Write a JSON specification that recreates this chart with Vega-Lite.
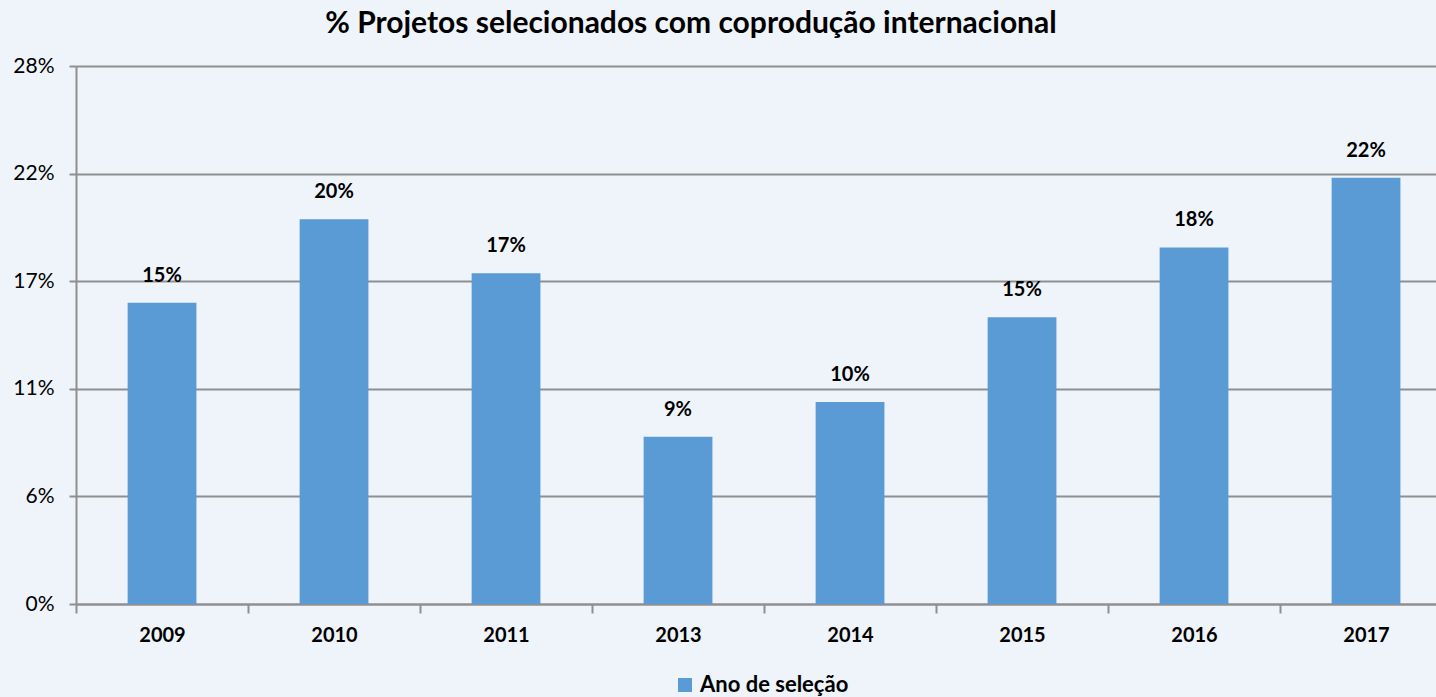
{
  "$schema": "https://vega.github.io/schema/vega-lite/v6.json",
  "width": 1360,
  "height": 538,
  "autosize": {"type": "none"},
  "padding": {"left": 76, "top": 66, "right": 0, "bottom": 93},
  "background": "#EFF4FB",
  "title": {
    "text": "% Projetos selecionados com coprodução internacional",
    "font": "Lato",
    "fontSize": 30,
    "fontWeight": "bold",
    "color": "#000000",
    "anchor": "middle",
    "dx": -65,
    "offset": 16
  },
  "config": {
    "view": {"stroke": null},
    "font": "Lato"
  },
  "data": {
    "values": [
      {"ano": "2009", "pct": 0.1568, "rotulo": "15%"},
      {"ano": "2010", "pct": 0.2002, "rotulo": "20%"},
      {"ano": "2011", "pct": 0.1721, "rotulo": "17%"},
      {"ano": "2013", "pct": 0.0871, "rotulo": "9%"},
      {"ano": "2014", "pct": 0.1051, "rotulo": "10%"},
      {"ano": "2015", "pct": 0.1492, "rotulo": "15%"},
      {"ano": "2016", "pct": 0.1856, "rotulo": "18%"},
      {"ano": "2017", "pct": 0.2219, "rotulo": "22%"}
    ]
  },
  "encoding": {
    "x": {
      "field": "ano",
      "type": "nominal",
      "sort": null,
      "scale": {"paddingInner": 0.6, "paddingOuter": 0.2535, "align": 0.592},
      "axis": {
        "title": null,
        "labelAngle": 0,
        "labelFont": "Lato",
        "labelFontSize": 20,
        "labelFontWeight": "bold",
        "labelColor": "#000000",
        "labelPadding": 12,
        "bandPosition": 0,
        "tickOffset": -51.6,
        "labelOffset": 51.6,
        "tickSize": 9,
        "tickWidth": 2,
        "tickColor": "#8F8F8F",
        "domainColor": "#8F8F8F",
        "domainWidth": 2,
        "grid": false
      }
    },
    "y": {
      "field": "pct",
      "type": "quantitative",
      "scale": {"domain": [0, 0.28], "nice": false},
      "axis": {
        "title": null,
        "values": [0, 0.056, 0.112, 0.168, 0.224, 0.28],
        "format": ".0%",
        "grid": true,
        "gridColor": "#8F8F8F",
        "gridWidth": 2,
        "domainColor": "#8F8F8F",
        "domainWidth": 2,
        "tickColor": "#8F8F8F",
        "tickWidth": 2,
        "tickSize": 7,
        "labelFont": "Lato",
        "labelFontSize": 21,
        "labelColor": "#000000",
        "labelPadding": 15
      }
    }
  },
  "layer": [
    {
      "mark": {"type": "bar"},
      "encoding": {
        "color": {
          "datum": "Ano de seleção",
          "type": "nominal",
          "scale": {"range": ["#5B9BD5"]},
          "legend": {
            "title": null,
            "orient": "none",
            "legendX": 598,
            "legendY": 608,
            "direction": "horizontal",
            "symbolType": "square",
            "symbolSize": 196,
            "symbolStrokeWidth": 0,
            "labelFont": "Lato",
            "labelFontSize": 22,
            "labelFontWeight": "bold",
            "labelColor": "#000000"
          }
        }
      }
    },
    {
      "mark": {
        "type": "text",
        "baseline": "alphabetic",
        "dy": -21,
        "font": "Lato",
        "fontSize": 20,
        "fontWeight": "bold",
        "color": "#000000"
      },
      "encoding": {
        "text": {"field": "rotulo"}
      }
    }
  ]
}
